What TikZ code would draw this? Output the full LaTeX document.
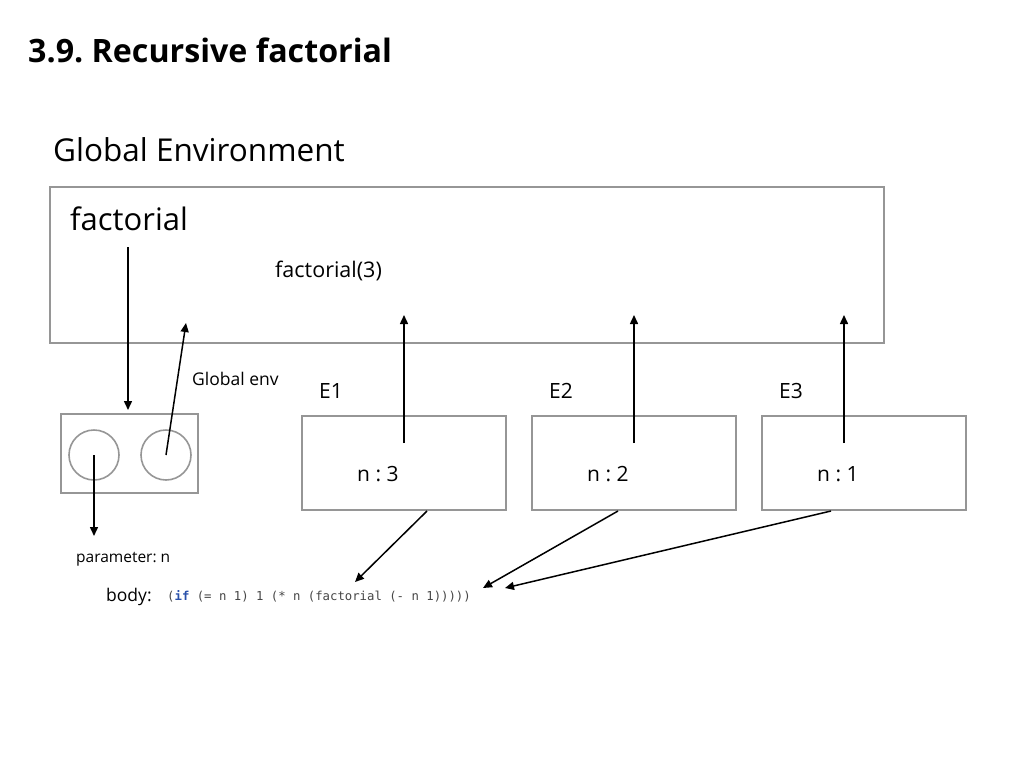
\documentclass[tikz,border=0pt]{standalone}
\usepackage{fontspec}
\setmainfont{Open Sans}
\setmonofont{DejaVu Sans Mono}
\usetikzlibrary{arrows.meta}
\frenchspacing

\definecolor{boxgray}{RGB}{150,150,150}
\definecolor{kwblue}{RGB}{40,80,170}
\definecolor{codegray}{RGB}{70,70,70}

\tikzset{
    frame/.style={draw=boxgray, line width=1.6pt, rectangle, inner sep=0pt},
    slot/.style={draw=boxgray, line width=1.6pt, circle, minimum size=50pt, inner sep=0pt},
    link/.style={-{Triangle[length=9pt,width=8pt]}, line width=1.5pt, black},
    txt/.style={anchor=base west, inner sep=0pt}
}

\begin{document}
\begin{tikzpicture}[x=1pt, y=-1pt]
    \useasboundingbox (0,0) rectangle (1024,768);
    % Title and heading
    \node[txt, font=\fontsize{32.2}{36}\selectfont\bfseries] (title) at (28,63) {3.9. Recursive factorial};
    \node[txt, font=\fontsize{31.5}{36}\selectfont] (heading) at (53,161) {Global Environment};
    % Global frame
    \node[frame, minimum width=834pt, minimum height=156pt] (global) at (467,265) {};
    \node[txt, font=\fontsize{31}{36}\selectfont] (fact) at (70,230) {factorial};
    \node[txt, font=\fontsize{21.5}{25}\selectfont] (call) at (275,277) {factorial(3)};
    % Function object
    \node[frame, minimum width=137pt, minimum height=79pt] (fobj) at (129.5,453.5) {};
    \node[slot] (param) at (94,455) {};
    \node[slot] (envptr) at (166,455) {};
    \node[txt, font=\fontsize{17.5}{21}\selectfont] (genv) at (192,385) {Global env};
    \node[txt, font=\fontsize{15.5}{18}\selectfont] (pname) at (76,562) {parameter: n};
    \node[txt, font=\fontsize{17.5}{21}\selectfont] (body) at (106,601) {body:};
    \node[txt, font=\fontsize{12.3}{15}\selectfont\ttfamily, text=codegray] (code) at (167,600)
        {(\textcolor{kwblue}{\textbf{if}} (= n 1) 1 (* n (factorial (- n 1)))))};
    % Frames E1..E3
    \foreach \i/\x/\v in {1/302/3,2/532/2,3/762/1} {
        \node[txt, font=\fontsize{21}{25}\selectfont] (E\i-label) at (\x+17,398) {E\i};
        \node[frame, minimum width=204pt, minimum height=94pt] (E\i) at (\x+102,463) {};
        \node[txt, font=\fontsize{21}{25}\selectfont] (E\i-n) at (\x+55,481) {n : \v};
    }
    % Free ends
    \coordinate (fstart) at (128,247);
    \coordinate (fend) at (128,410);
    \coordinate (gtip) at (186,323);
    \coordinate (ptip) at (94,536);
    \coordinate (up1) at (404,315);
    \coordinate (up2) at (634,315);
    \coordinate (up3) at (844,315);
    \coordinate (in1) at (404,443);
    \coordinate (in2) at (634,443);
    \coordinate (in3) at (844,443);
    \coordinate (out1) at (427,511);
    \coordinate (out2) at (618,511);
    \coordinate (out3) at (831,511);
    \coordinate (tip1) at (355,582);
    \coordinate (tip2) at (483,588);
    \coordinate (tip3) at (505,588);
    % Arrows
    \draw[link] (fstart) -- (fend);
    \draw[link] (envptr.center) -- (gtip);
    \draw[link] (param.center) -- (ptip);
    \foreach \i in {1,2,3} {
        \draw[link] (in\i) -- (up\i);
        \draw[link] (out\i) -- (tip\i);
    }
\end{tikzpicture}
\end{document}
